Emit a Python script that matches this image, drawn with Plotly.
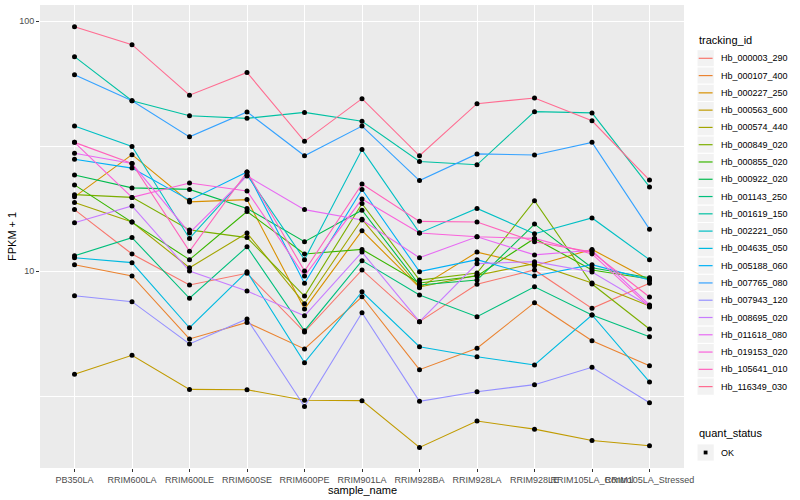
import plotly.graph_objects as go

categories = ["PB350LA", "RRIM600LA", "RRIM600LE", "RRIM600SE", "RRIM600PE", "RRIM901LA",
              "RRIM928BA", "RRIM928LA", "RRIM928LE", "RRIM105LA_Control", "RRIM105LA_Stressed"]

tracking_ids = ["Hb_000003_290", "Hb_000107_400", "Hb_000227_250", "Hb_000563_600", "Hb_000574_440",
                "Hb_000849_020", "Hb_000855_020", "Hb_000922_020", "Hb_001143_250", "Hb_001619_150",
                "Hb_002221_050", "Hb_004635_050", "Hb_005188_060", "Hb_007765_080", "Hb_007943_120",
                "Hb_008695_020", "Hb_011618_080", "Hb_019153_020", "Hb_105641_010", "Hb_116349_030"]

colors = ["#F8766D", "#EA8331", "#D89000", "#C09B00", "#A3A500", "#7CAE00", "#39B600", "#00BB4E",
          "#00BF7D", "#00C1A3", "#00BFC4", "#00BAE0", "#00B0F6", "#35A2FF", "#9590FF", "#C77CFF",
          "#E76BF3", "#FA62DB", "#FF62BC", "#FF6C91"]

# FPKM + 1 values, one list per tracking_id (same order as categories)
hb_000003_290 = [17.6, 11.7, 8.79, 9.79, 5.70, 10.1, 6.27, 8.85, 10.1, 7.09, 8.93]
hb_000107_400 = [10.6, 9.55, 5.35, 6.23, 4.88, 7.89, 4.03, 4.91, 7.47, 5.26, 4.18]
hb_000227_250 = [19.8, 29.2, 18.9, 19.3, 7.05, 14.5, 8.58, 11.9, 10.5, 12.2, 9.20]
hb_000563_600 = [3.86, 4.60, 3.36, 3.35, 3.04, 3.03, 1.97, 2.51, 2.33, 2.10, 2.00]
hb_000574_440 = [18.8, 15.7, 10.3, 14.2, 7.40, 16.1, 8.63, 9.64, 10.7, 8.95, 7.24]
hb_000849_020 = [20.2, 19.7, 14.6, 13.6, 7.94, 18.6, 9.20, 9.82, 19.1, 8.87, 5.86]
hb_000855_020 = [22.1, 15.7, 11.1, 17.3, 11.7, 12.2, 8.95, 9.55, 13.5, 10.1, 9.29]
hb_000922_020 = [24.2, 21.5, 21.2, 17.8, 13.1, 17.5, 8.79, 9.20, 15.4, 10.3, 9.40]
hb_001143_250 = [11.5, 13.6, 7.78, 12.5, 5.77, 11.0, 8.02, 6.56, 8.65, 6.67, 5.46]
hb_001619_150 = [72.0, 48.0, 41.8, 40.8, 43.1, 39.7, 27.4, 26.6, 43.4, 42.9, 21.7]
hb_002221_050 = [38.0, 31.5, 13.5, 24.2, 11.1, 30.6, 14.2, 17.8, 14.1, 16.3, 11.1]
hb_004635_050 = [11.3, 10.8, 5.93, 9.94, 4.30, 8.26, 4.98, 4.54, 4.21, 6.67, 3.60]
hb_005188_060 = [28.0, 25.8, 19.2, 24.9, 8.93, 21.2, 9.94, 11.1, 9.55, 10.6, 9.20]
hb_007765_080 = [61.0, 48.0, 34.4, 43.3, 28.9, 38.0, 23.0, 29.4, 29.1, 32.7, 14.7]
hb_007943_120 = [7.96, 7.54, 5.11, 6.43, 2.87, 6.81, 3.01, 3.29, 3.51, 4.12, 2.97]
hb_008695_020 = [15.6, 18.2, 10.0, 8.32, 6.62, 11.9, 6.27, 10.7, 10.9, 9.91, 7.24]
hb_011618_080 = [29.6, 26.9, 14.2, 24.0, 17.6, 16.0, 11.3, 13.7, 11.6, 12.1, 7.31]
hb_019153_020 = [32.7, 19.7, 22.5, 20.9, 9.55, 19.4, 14.2, 13.7, 13.5, 11.7, 7.18]
hb_105641_010 = [32.7, 26.9, 12.0, 24.9, 10.0, 22.3, 15.8, 15.7, 13.1, 11.9, 7.87]
hb_116349_030 = [94.9, 80.4, 50.5, 62.3, 33.0, 48.9, 28.9, 46.7, 49.2, 39.9, 23.1]

series = [hb_000003_290, hb_000107_400, hb_000227_250, hb_000563_600, hb_000574_440,
          hb_000849_020, hb_000855_020, hb_000922_020, hb_001143_250, hb_001619_150,
          hb_002221_050, hb_004635_050, hb_005188_060, hb_007765_080, hb_007943_120,
          hb_008695_020, hb_011618_080, hb_019153_020, hb_105641_010, hb_116349_030]

FONT = "Liberation Sans, Arial, sans-serif"
W, H = 800, 500
PL, PR, PT, PB = 40, 684, 5, 468


def px(x):
    return (x - PL) / (PR - PL)


def py(y):
    return (PB - y) / (PB - PT)


fig = go.Figure()

for name, col, vals in zip(tracking_ids, colors, series):
    fig.add_trace(go.Scatter(x=categories, y=vals, mode="lines", name=name,
                             line=dict(color=col, width=1.1), showlegend=False))

all_x, all_y = [], []
for vals in series:
    all_x.extend(categories)
    all_y.extend(vals)
fig.add_trace(go.Scatter(x=all_x, y=all_y, mode="markers", name="OK", showlegend=False,
                         marker=dict(color="black", size=5, symbol="circle")))

shapes = []
annotations = []

# legend: tracking_id
annotations.append(dict(x=px(697), y=py(40.5), xref="paper", yref="paper", text="tracking_id",
                        showarrow=False, xanchor="left", yanchor="middle",
                        font=dict(family=FONT, size=11, color="black")))
key = 17.28
for i, (name, col) in enumerate(zip(tracking_ids, colors)):
    cy = 58.3 + i * key
    shapes.append(dict(type="rect", xref="paper", yref="paper", x0=px(697), x1=px(697 + key),
                       y0=py(cy - key / 2), y1=py(cy + key / 2), fillcolor="#F2F2F2",
                       line=dict(color="white", width=1), layer="above"))
    shapes.append(dict(type="line", xref="paper", yref="paper", x0=px(698.7), x1=px(697 + key - 1.7),
                       y0=py(cy), y1=py(cy), line=dict(color=col, width=1.2), layer="above"))
    annotations.append(dict(x=px(718.5), y=py(cy), xref="paper", yref="paper", text=name,
                            showarrow=False, xanchor="left", yanchor="middle",
                            font=dict(family=FONT, size=9, color="black")))

# legend: quant_status
annotations.append(dict(x=px(697), y=py(433), xref="paper", yref="paper", text="quant_status",
                        showarrow=False, xanchor="left", yanchor="middle",
                        font=dict(family=FONT, size=11, color="black")))
cy = 452.5
shapes.append(dict(type="rect", xref="paper", yref="paper", x0=px(697), x1=px(697 + key),
                   y0=py(cy - key / 2), y1=py(cy + key / 2), fillcolor="#F2F2F2",
                   line=dict(color="white", width=1), layer="above"))
shapes.append(dict(type="rect", xref="paper", yref="paper", x0=px(703.7), x1=px(707.5),
                   y0=py(cy - 1.9), y1=py(cy + 1.9), fillcolor="black",
                   line=dict(width=0), layer="above"))
annotations.append(dict(x=px(718.5), y=py(cy), xref="paper", yref="paper", text="OK",
                        showarrow=False, xanchor="left", yanchor="middle",
                        font=dict(family=FONT, size=9, color="black")))

# axis titles
annotations.append(dict(x=px(362), y=py(490), xref="paper", yref="paper", text="sample_name",
                        showarrow=False, xanchor="center", yanchor="middle",
                        font=dict(family=FONT, size=11, color="black")))
annotations.append(dict(x=px(12), y=py(237), xref="paper", yref="paper", text="FPKM + 1",
                        showarrow=False, xanchor="center", yanchor="middle", textangle=-90,
                        font=dict(family=FONT, size=11, color="black")))

fig.update_layout(
    width=W, height=H,
    margin=dict(l=PL, r=W - PR, t=PT, b=H - PB, pad=0),
    paper_bgcolor="white", plot_bgcolor="#EBEBEB",
    font=dict(family=FONT, size=9, color="#4D4D4D"),
    shapes=shapes, annotations=annotations,
    showlegend=False,
)

fig.update_xaxes(type="category", categoryorder="array", categoryarray=categories,
                 range=[-0.6, len(categories) - 1 + 0.6], tickangle=0,
                 showgrid=True, gridcolor="white", gridwidth=1.1, zeroline=False,
                 ticks="outside", ticklen=3, tickwidth=1, tickcolor="#333333",
                 tickfont=dict(family=FONT, size=9, color="#4D4D4D"), showline=False)

fig.update_yaxes(type="log", range=[0.212, 2.064], tickvals=[10, 100], ticktext=["10", "100"],
                 showgrid=True, gridcolor="white", gridwidth=1.1, zeroline=False,
                 ticks="outside", ticklen=3, tickwidth=1, tickcolor="#333333",
                 tickfont=dict(family=FONT, size=9, color="#4D4D4D"), showline=False,
                 minor=dict(tickvals=[3.1623, 31.623], showgrid=True, gridcolor="white",
                            gridwidth=0.55, ticklen=0))

fig.write_html("out.html", config={"displayModeBar": False},
               post_script="document.body.style.margin='0';document.body.style.overflow='hidden';")
